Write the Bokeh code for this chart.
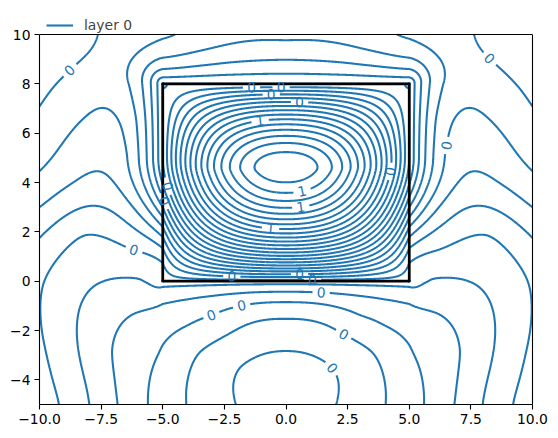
import numpy as np
from contourpy import contour_generator
from bokeh.plotting import figure
from bokeh.models import (Range1d, FixedTicker, Legend, LegendItem, ColumnDataSource,
                          LinearAxis, Span)
from bokeh.embed import file_html
from bokeh.resources import INLINE
from bokeh.core.properties import value

# ---------------- chart data ----------------
X_LIM = [-10.0, 10.0]
Y_LIM = [-5.0, 10.0]
X_TICKS = [-10.0, -7.5, -5.0, -2.5, 0.0, 2.5, 5.0, 7.5, 10.0]
X_TICK_LABELS = ["\u221210.0", "\u22127.5", "\u22125.0", "\u22122.5", "0.0", "2.5", "5.0", "7.5", "10.0"]
Y_TICKS = [-4, -2, 0, 2, 4, 6, 8, 10]
Y_TICK_LABELS = ["\u22124", "\u22122", "0", "2", "4", "6", "8", "10"]
BOX_X = [-5.0, 5.0]
BOX_Y = [0.0, 8.0]
SERIES_NAME = "layer 0"
LEVEL_STEP = 0.05                      # value between two neighbouring contour lines
LEVEL_INDEX = list(range(1, 30))       # contour lines drawn (in steps)

# field values, in contour steps (right half; mirrored to the left)
BG_X = [0, 2.15, 4.1, 5.7, 6.85, 8.0, 9.1, 10,
        0, 1.96, 3.6, 5.1, 7.16, 10,
        0, 2.3, 2.97, 4.0, 6.2, 4.9, 10,
        0, 2, 4, 5, 7.16, 10,
        5, 6.28, 5, 8.2, 5, 10, 8.8,
        5, 6.6, 10, 8.4, 6.23, 5,
        0, 3, 0, 0, 5.33, 6.7, 8, 10, 10]
BG_Y = [-5, -5, -5, -5, -5, -5, -5, -5,
        -2.8, -3.43, -2.8, -3.0, -2.8, -3,
        -1.6, -2.21, -1.54, -1.9, -1.2, -1.0, -1.2,
        0, 0, 0, 0, 0.07, 0,
        1, 0.96, 2, 2.0, 3, 3.4, 4.2,
        5, 5.05, 5.3, 6.9, 6.55, 8,
        8, 8, 9, 10, 10, 10, 10, 8.2, 10]
BG_V = [0.5, 1, 2, 3, 4, 5, 6, 6.4,
        0.6, 0.76, 1.68, 2.82, 3.9, 6.2,
        0.8, 1.36, 2.0, 2.38, 3.47, 2.9, 6.0,
        1.0, 1.4, 2.4, 3.2, 4.64, 6.05,
        3.8, 5.0, 5.0, 5.72, 6.3, 8.3, 8.0,
        7.3, 6.9, 9.3, 8.9, 7.4, 8.6,
        10.3, 9.8, 10.39, 10.0, 8.7, 8.8, 10.1, 10.25, 10.9]
ZB = 5.5      # value on the box floor (steps)
ZS = 14.0     # value on the box walls and lid (steps)
SIDE_RISE = 5.0
HILL_L = 1.2
HUMP_S = 17.7
HUMP_YC = 4.5
TPS_SMOOTH = 1.2

# contour-label anchors (approximate spots where labels sit)
LABEL_X = [-9.19, 8.65, 7.07, -6.28, -1.82, -2.97, 1.42, 2.3, 1.96,
           4.18, -4.85, -4.93, -1.41, -0.6, -0.19, 0.55, -1.05, 0.6, 0.6, -0.63, -2.21, 0.55, 1.08]
LABEL_Y = [8.99, 9.42, 5.41, 0.96, -0.93, -1.54, -0.46, -2.21, -3.43,
           4.46, 3.83, 3.24, 7.9, 7.6, 7.87, 7.3, 6.49, 3.83, 2.98, 2.1, 0.2, 0.31, 0.0]

# ---------------- smooth background through the read values ----------------
bx_ = np.array(BG_X, float)
by_ = np.array(BG_Y, float)
bv_ = np.array(BG_V, float)
mir = bx_ > 0
PXs = np.concatenate([bx_, -bx_[mir]])
PYs = np.concatenate([by_, by_[mir]])
PVs = np.concatenate([bv_, bv_[mir]])


def tps_k(r):
    return np.where(r > 0, r * r * np.log(np.maximum(r, 1e-12)), 0.0)


nP = len(PXs)
Dm = np.hypot(PXs[:, None] - PXs[None, :], PYs[:, None] - PYs[None, :])
Am = np.zeros((nP + 3, nP + 3))
Am[:nP, :nP] = tps_k(Dm) + TPS_SMOOTH * np.eye(nP)
Pm = np.column_stack([np.ones(nP), PXs, PYs])
Am[:nP, nP:] = Pm
Am[nP:, :nP] = Pm.T
sol = np.linalg.solve(Am, np.concatenate([PVs, np.zeros(3)]))
W_, A_ = sol[:nP], sol[nP:]


def bg(x, y):
    x = np.asarray(x, float)
    y = np.asarray(y, float)
    xf, yf = x.ravel(), y.ravel()
    out = np.empty(xf.size)
    for s in range(0, xf.size, 20000):
        xx, yy = xf[s:s + 20000], yf[s:s + 20000]
        r = np.hypot(xx[:, None] - PXs[None, :], yy[:, None] - PYs[None, :])
        out[s:s + 20000] = tps_k(r) @ W_ + A_[0] + A_[1] * xx + A_[2] * yy
    return out.reshape(x.shape)


def side_val(yv):
    s = np.clip(yv / SIDE_RISE, 0, 1)
    return ZB + (ZS - ZB) * s * s * (3 - 2 * s)


def z_target(bxp, byp):
    return np.where(byp <= 1e-9, ZB, np.where(byp >= 8 - 1e-9, ZS, side_val(byp)))


GX = np.linspace(X_LIM[0], X_LIM[1], 801)
GY = np.linspace(Y_LIM[0], Y_LIM[1], 601)
XX, YY = np.meshgrid(GX, GY)
bxs = np.clip(XX, -5, 5)
bys = np.clip(YY, 0, 8)
dist = np.hypot(XX - bxs, YY - bys)
Z = bg(XX, YY) + (z_target(bxs, bys) - bg(bxs, bys)) * np.exp(-dist / HILL_L)


# ---------------- inside the box ----------------
def ratio(kk, t, L):
    return np.exp(-np.outer(kk, L - t)) * (1 - np.exp(-2 * np.outer(kk, t))) / (1 - np.exp(-2 * kk * L))[:, None]


def harmonic_box(fb, ft, fl, fr, u, v, a=10.0, b=8.0, N=400):
    n = np.arange(1, N + 1)
    sig = np.sinc(n / (N + 1.0))
    us = np.linspace(0, a, 8001)
    vs = np.linspace(0, b, 8001)

    def coef(f, s, L):
        S = np.sin(np.outer(n * np.pi / L, s))
        return 2.0 / L * np.trapezoid(f[None, :] * S, s, axis=1) * sig

    Bn, Tn = coef(fb(us), us, a), coef(ft(us), us, a)
    Ln, Rn = coef(fl(vs), vs, b), coef(fr(vs), vs, b)
    k = n * np.pi / a
    Su = np.sin(np.outer(k, u))
    kp = n * np.pi / b
    Sv = np.sin(np.outer(kp, v))
    return (ratio(k, b - v, b).T @ (Bn[:, None] * Su) + ratio(k, v, b).T @ (Tn[:, None] * Su)
            + Sv.T @ (Ln[:, None] * ratio(kp, a - u, a)) + Sv.T @ (Rn[:, None] * ratio(kp, u, a)))


i0, i1, j0, j1 = 200, 600, 200, 520
u = GX[i0:i1 + 1] + 5.0
v = GY[j0:j1 + 1]
H = harmonic_box(lambda s: ZB + 0 * s, lambda s: ZS + 0 * s, side_val, side_val, u, v)
ux = np.abs(GX[i0:i1 + 1] / 5.0)[None, :]
vy = GY[j0:j1 + 1][:, None]
uy = np.where(vy < HUMP_YC, (HUMP_YC - vy) / HUMP_YC, (vy - HUMP_YC) / (8.0 - HUMP_YC))
py_ = np.where(vy < HUMP_YC, 2.0, 1.6)
P = (1 - ux ** 2.2) * (1 - np.abs(uy) ** py_)
Z[j0:j1 + 1, i0:i1 + 1] = H + HUMP_S * P

# ---------------- contour lines ----------------
gen = contour_generator(x=GX, y=GY, z=Z, line_type="Separate")
pieces = []
for k in LEVEL_INDEX:
    for ln in gen.lines(float(k)):
        if len(ln) > 1:
            pieces.append((k, ln))

PXU = 493.0 / (X_LIM[1] - X_LIM[0])
PYU = 370.0 / (Y_LIM[1] - Y_LIM[0])
GAP = 8.5
lab_x, lab_y, lab_t, lab_a = [], [], [], []
for ax_, ay_ in zip(LABEL_X, LABEL_Y):
    best = None
    for q, (k, ln) in enumerate(pieces):
        dd = ((ln[:, 0] - ax_) * PXU) ** 2 + ((ln[:, 1] - ay_) * PYU) ** 2
        i = int(np.argmin(dd))
        if best is None or dd[i] < best[0]:
            best = (dd[i], q, i)
    _, q, i = best
    k, ln = pieces[q]
    cx, cy = ln[i]
    a0 = ln[max(i - 3, 0)]
    a1 = ln[min(i + 3, len(ln) - 1)]
    ang = np.arctan2((a1[1] - a0[1]) * PYU, (a1[0] - a0[0]) * PXU)
    if ang > np.pi / 2:
        ang -= np.pi
    if ang < -np.pi / 2:
        ang += np.pi
    lab_x.append(float(cx))
    lab_y.append(float(cy))
    lab_t.append("%d" % round(k * LEVEL_STEP, 2))
    lab_a.append(float(ang))
    keep = np.hypot((ln[:, 0] - cx) * PXU, (ln[:, 1] - cy) * PYU) > GAP
    segs, cur = [], []
    for j in range(len(ln)):
        if keep[j]:
            cur.append(ln[j])
        elif cur:
            segs.append(np.array(cur))
            cur = []
    if cur:
        segs.append(np.array(cur))
    pieces.pop(q)
    for s_ in segs:
        if len(s_) > 1:
            pieces.append((k, s_))

line_xs = [pc[1][:, 0] for pc in pieces]
line_ys = [pc[1][:, 1] for pc in pieces]

# ---------------- figure ----------------
TOP_PAD = 26.0 / PYU          # room above the axes box for the legend
p = figure(width=549, height=429, x_range=Range1d(*X_LIM),
           y_range=Range1d(Y_LIM[0], Y_LIM[1] + TOP_PAD),
           output_backend="svg", toolbar_location=None,
           min_border_left=39, min_border_right=17, min_border_top=8, min_border_bottom=25)
p.grid.visible = False
p.outline_line_color = None
for axis, ticks, labels in ((p.xaxis, X_TICKS, X_TICK_LABELS), (p.yaxis, Y_TICKS, Y_TICK_LABELS)):
    axis.ticker = FixedTicker(ticks=ticks)
    axis.major_label_overrides = {t: l for t, l in zip(ticks, labels)}
    axis.minor_tick_line_color = None
    axis.major_tick_in = 0
    axis.major_tick_out = 5
    axis.major_tick_line_color = "black"
    axis.axis_line_color = "black"
    axis.axis_line_width = 1.1
    axis.major_tick_line_width = 1.1
    axis.major_label_text_font = "DejaVu Sans"
    axis.major_label_text_font_size = "13.9px"
    axis.major_label_text_color = "black"
    axis.major_label_standoff = 4
p.yaxis.bounds = (Y_LIM[0], Y_LIM[1])
right_spine = LinearAxis(bounds=(Y_LIM[0], Y_LIM[1]), ticker=FixedTicker(ticks=[]),
                         axis_line_color="black", axis_line_width=1.1,
                         major_tick_line_color=None, minor_tick_line_color=None,
                         major_label_text_font_size="0px")
p.add_layout(right_spine, "right")
p.add_layout(Span(location=Y_LIM[1], dimension="width", line_color="black", line_width=1.1))

r = p.multi_line(line_xs, line_ys, line_color="#1f77b4", line_width=2.08)
p.quad(left=[BOX_X[0]], right=[BOX_X[1]], bottom=[BOX_Y[0]], top=[BOX_Y[1]],
       fill_alpha=0, line_color="black", line_width=2.78)
lab_src = ColumnDataSource(dict(x=lab_x, y=lab_y, t=lab_t, a=lab_a))
p.text(x="x", y="y", text="t", angle="a", source=lab_src, text_align="center",
       text_baseline="middle", text_color="#1f77b4", text_font=value("DejaVu Sans"),
       text_font_size="13.9px")

legend = Legend(items=[LegendItem(label=SERIES_NAME, renderers=[r])], location=(7, 371),
                border_line_color=None, background_fill_alpha=0, padding=2, margin=0,
                glyph_width=27, glyph_height=14, label_height=14, label_standoff=11,
                label_text_font="DejaVu Sans", label_text_font_size="13.9px")
p.add_layout(legend)

open("out.html", "w").write(file_html(p, INLINE))
